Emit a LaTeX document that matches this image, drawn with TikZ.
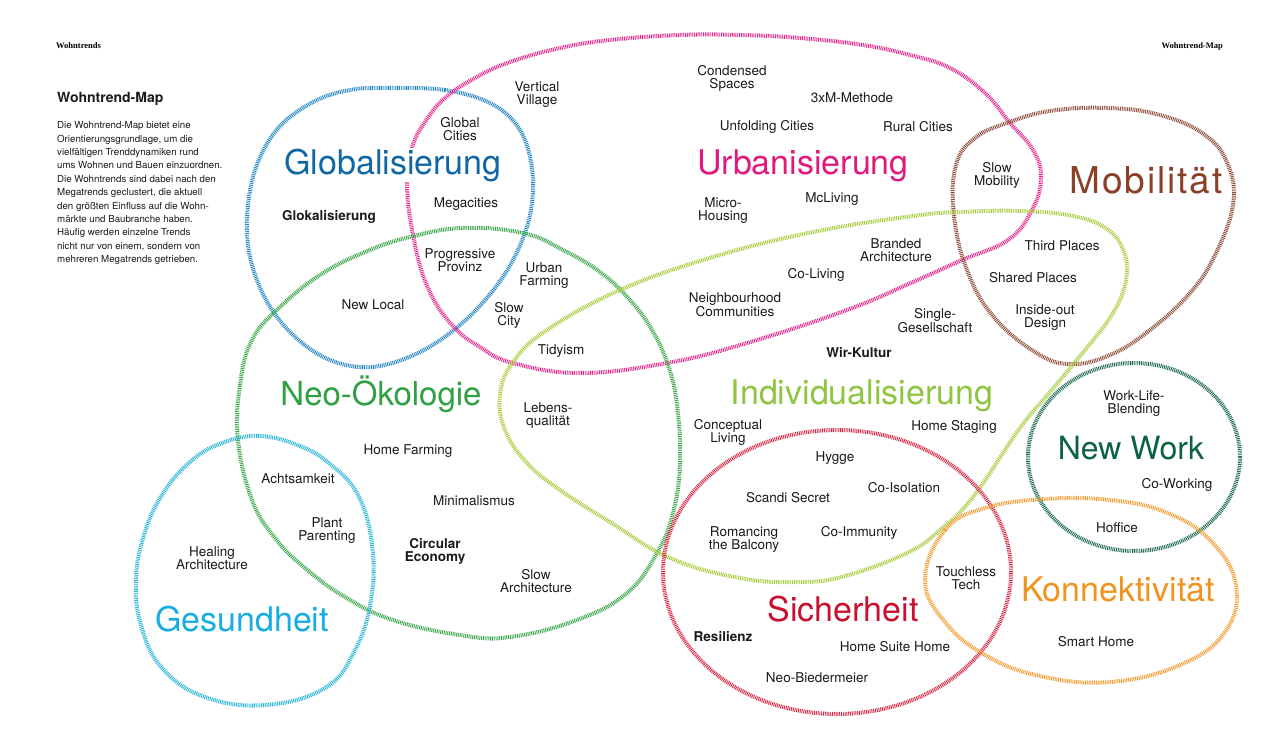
\documentclass[tikz,border=0pt]{standalone}
\usepackage{fontspec}
\setmainfont{TeX Gyre Heros}
\newfontfamily\hdrfont{Liberation Serif}
\definecolor{rBlue}{HTML}{2586C4}\definecolor{lBlue}{HTML}{0F67A5}
\definecolor{rMag}{HTML}{E2288E}\definecolor{lMag}{HTML}{E0197D}
\definecolor{rBrown}{HTML}{8E4E3A}\definecolor{lBrown}{HTML}{8A3F27}
\definecolor{rGreen}{HTML}{3BA64C}\definecolor{lGreen}{HTML}{2FA043}
\definecolor{rYG}{HTML}{A8CD3E}\definecolor{lYG}{HTML}{8FC540}
\definecolor{rCyan}{HTML}{2BB6D8}\definecolor{lCyan}{HTML}{19ACE2}
\definecolor{rDG}{HTML}{1E6B51}\definecolor{lDG}{HTML}{0B6242}
\definecolor{rRed}{HTML}{D42A45}\definecolor{lRed}{HTML}{C8102E}
\definecolor{rOrange}{HTML}{F39B30}\definecolor{lOrange}{HTML}{F0931F}
\definecolor{txt}{HTML}{1A1A1A}
\begin{document}
\begin{tikzpicture}[x=1pt,y=-1pt,
  ring/.style={line width=4pt, dash pattern=on 0.9pt off 0.9pt},
  tr/.style={font=\fontsize{13.5}{13}\selectfont, align=center, inner sep=0pt, text=txt},
  trb/.style={tr, font=\fontsize{13.5}{13}\selectfont\bfseries},
  mt/.style={font=\fontsize{34}{36}\selectfont, anchor=base, inner sep=1pt},
  hdr/.style={font=\hdrfont\bfseries\fontsize{8.5}{10}\selectfont, inner sep=0pt, text=black}]
\useasboundingbox (0,0) rectangle (1280,744);
\fill[white] (0,0) rectangle (1280,744);

% rings
\draw[ring, rBlue] plot[smooth cycle, tension=0.6] coordinates {(385,88) (445,90) (492,104) (520,130) (532,168) (531,210) (518,250) (495,288) (460,325) (418,353) (372,367) (330,360) (293,335) (265,298) (249,252) (248,205) (258,162) (280,126) (315,101) (350,90)};
\draw[ring, rMag] plot[smooth cycle, tension=0.7] coordinates {(407,185) (412,148) (425,122) (445,98) (475,78) (510,62) (560,48) (610,40) (680,35) (740,35) (800,38) (863,45) (910,55) (950,68) (985,93) (1010,123) (1033,150) (1041,178) (1032,210) (1008,240) (962,260) (913,282) (847,310) (747,343) (667,363) (580,373) (513,363) (480,347) (452,325) (428,288) (414,240)};
\draw[ring, rBrown] plot[smooth cycle, tension=0.7] coordinates {(1007,123) (1050,111) (1107,108) (1160,115) (1205,135) (1228,165) (1233,205) (1215,255) (1190,293) (1150,330) (1110,355) (1070,364) (1035,352) (993,316) (967,270) (954,215) (956,165) (975,138)};
\draw[ring, rGreen] plot[smooth cycle, tension=0.7] coordinates {(238,440) (240,385) (252,340) (280,307) (320,275) (365,252) (410,237) (463,228) (523,233) (563,250) (600,272) (630,300) (652,330) (668,365) (677,405) (680,463) (673,513) (657,553) (627,593) (577,620) (510,637) (460,635) (393,620) (345,597) (305,568) (275,538) (252,500)};
\draw[ring, rYG] plot[smooth cycle, tension=0.7] coordinates {(547,330) (620,290) (713,257) (813,232) (913,216) (960,212) (1020,211) (1073,216) (1107,229) (1124,252) (1126,280) (1113,313) (1085,350) (1050,392) (1020,428) (973,497) (940,530) (907,553) (845,576) (800,582) (740,578) (670,558) (610,522) (560,490) (527,463) (505,430) (500,395) (513,362)};
\draw[ring, rCyan] plot[smooth cycle, tension=0.7] coordinates {(260,436) (300,446) (330,464) (358,495) (372,545) (371,600) (355,650) (325,688) (265,705) (205,697) (162,668) (141,625) (136,580) (144,535) (162,495) (190,462) (222,443)};
\draw[ring, rDG] (1134,457) ellipse [x radius=106pt, y radius=94pt];
\draw[ring, rRed] (837,572) ellipse [x radius=174pt, y radius=142pt];
\draw[ring, rOrange] plot[smooth cycle, tension=0.7] coordinates {(925,580) (945,530) (985,508) (1045,499) (1110,500) (1165,512) (1210,540) (1236,585) (1225,632) (1180,665) (1110,682) (1040,676) (985,655) (945,622)};

% headers and intro
\node[hdr, anchor=base west] (h1) at (56,48) {Wohntrends};
\node[hdr, anchor=base east] (h2) at (1223,48) {Wohntrend-Map};
\node[anchor=base west, inner sep=0pt, font=\fontsize{14}{16}\selectfont\bfseries, text=txt] (title) at (57,102) {Wohntrend-Map};
\node[anchor=north west, inner sep=0pt, align=left, font=\fontsize{9.7}{13.4}\selectfont, text=txt] (intro) at (57,121.5) {Die Wohntrend-Map bietet eine\\Orientierungsgrundlage, um die\\vielfältigen Trenddynamiken rund\\ums Wohnen und Bauen einzuordnen.\\Die Wohntrends sind dabei nach den\\Megatrends geclustert, die aktuell\\den größten Einfluss auf die Wohn-\\märkte und Baubranche haben.\\Häufig werden einzelne Trends\\nicht nur von einem, sondern von\\mehreren Megatrends getrieben.};

% megatrends
\node[mt, text=lBlue, fill=white] (mGlob) at (393,174) {Globalisierung};
\node[mt, text=lMag] (mUrb) at (803,174) {Urbanisierung};
\node[mt, text=lBrown, font=\fontsize{37}{38}\selectfont\addfontfeature{LetterSpace=5}] (mMob) at (1146,193) {Mobilität};
\node[mt, text=lGreen, font=\fontsize{33}{36}\selectfont] (mNeo) at (381,405) {Neo-Ökologie};
\node[mt, text=lYG] (mInd) at (862,404) {Individualisierung};
\node[mt, text=lDG, font=\fontsize{32}{36}\selectfont] (mNW) at (1131,459) {New Work};
\node[mt, text=lCyan] (mGes) at (242,631) {Gesundheit};
\node[mt, text=lRed] (mSich) at (843,621) {Sicherheit};
\node[mt, text=lOrange] (mKon) at (1118,601) {Konnektivität};

% trends
\node[tr] (t1) at (537,95) {Vertical\\Village};
\node[tr] (t2) at (460,129) {Global\\Cities};
\node[tr] (t3) at (732,78) {Condensed\\Spaces};
\node[tr] (t4) at (852,98) {3xM-Methode};
\node[tr] (t5) at (767,127) {Unfolding Cities};
\node[tr] (t6) at (918,127) {Rural Cities};
\node[trb] (t7) at (329,217) {Glokalisierung};
\node[tr] (t8) at (466,204) {Megacities};
\node[tr] (t9) at (723,211) {Micro-\\Housing};
\node[tr] (t10) at (832,199) {McLiving};
\node[tr] (t11) at (997,175) {Slow\\Mobility};
\node[tr] (t12) at (896,250) {Branded\\Architecture};
\node[tr] (t13) at (1062,246) {Third Places};
\node[tr] (t14) at (816,275) {Co-Living};
\node[tr] (t15) at (1033,278) {Shared Places};
\node[tr] (t16) at (460,260) {Progressive\\Provinz};
\node[tr] (t17) at (544,276) {Urban\\Farming};
\node[tr] (t18) at (735,305) {Neighbourhood\\Communities};
\node[tr] (t19) at (935,321) {Single-\\Gesellschaft};
\node[tr] (t20) at (1045,318) {Inside-out\\Design};
\node[tr] (t21) at (373,305) {New Local};
\node[tr] (t22) at (509,315) {Slow\\City};
\node[tr] (t23) at (561,351) {Tidyism};
\node[trb] (t24) at (859,353) {Wir-Kultur};
\node[tr] (t25) at (548,416) {Lebens-\\qualität};
\node[tr] (t26) at (1134,404) {Work-Life-\\Blending};
\node[tr] (t27) at (728,432) {Conceptual\\Living};
\node[tr] (t28) at (954,427) {Home Staging};
\node[tr] (t29) at (408,451) {Home Farming};
\node[tr] (t30) at (835,458) {Hygge};
\node[tr] (t31) at (298,479) {Achtsamkeit};
\node[tr] (t32) at (904,488) {Co-Isolation};
\node[tr] (t33) at (1177,485) {Co-Working};
\node[tr] (t34) at (788,498) {Scandi Secret};
\node[tr] (t35) at (474,501) {Minimalismus};
\node[tr] (t36) at (327,531) {Plant\\Parenting};
\node[tr] (t37) at (744,540) {Romancing\\the Balcony};
\node[tr] (t38) at (859,533) {Co-Immunity};
\node[tr] (t39) at (1117,528) {Hoffice};
\node[tr] (t40) at (212,558) {Healing\\Architecture};
\node[trb] (t41) at (435,551) {Circular\\Economy};
\node[tr] (t42) at (966,578) {Touchless\\Tech};
\node[tr] (t43) at (536,581) {Slow\\Architecture};
\node[trb] (t44) at (723,637) {Resilienz};
\node[tr] (t45) at (895,647) {Home Suite Home};
\node[tr] (t46) at (1096,642) {Smart Home};
\node[tr] (t47) at (817,678) {Neo-Biedermeier};
\end{tikzpicture}
\end{document}
